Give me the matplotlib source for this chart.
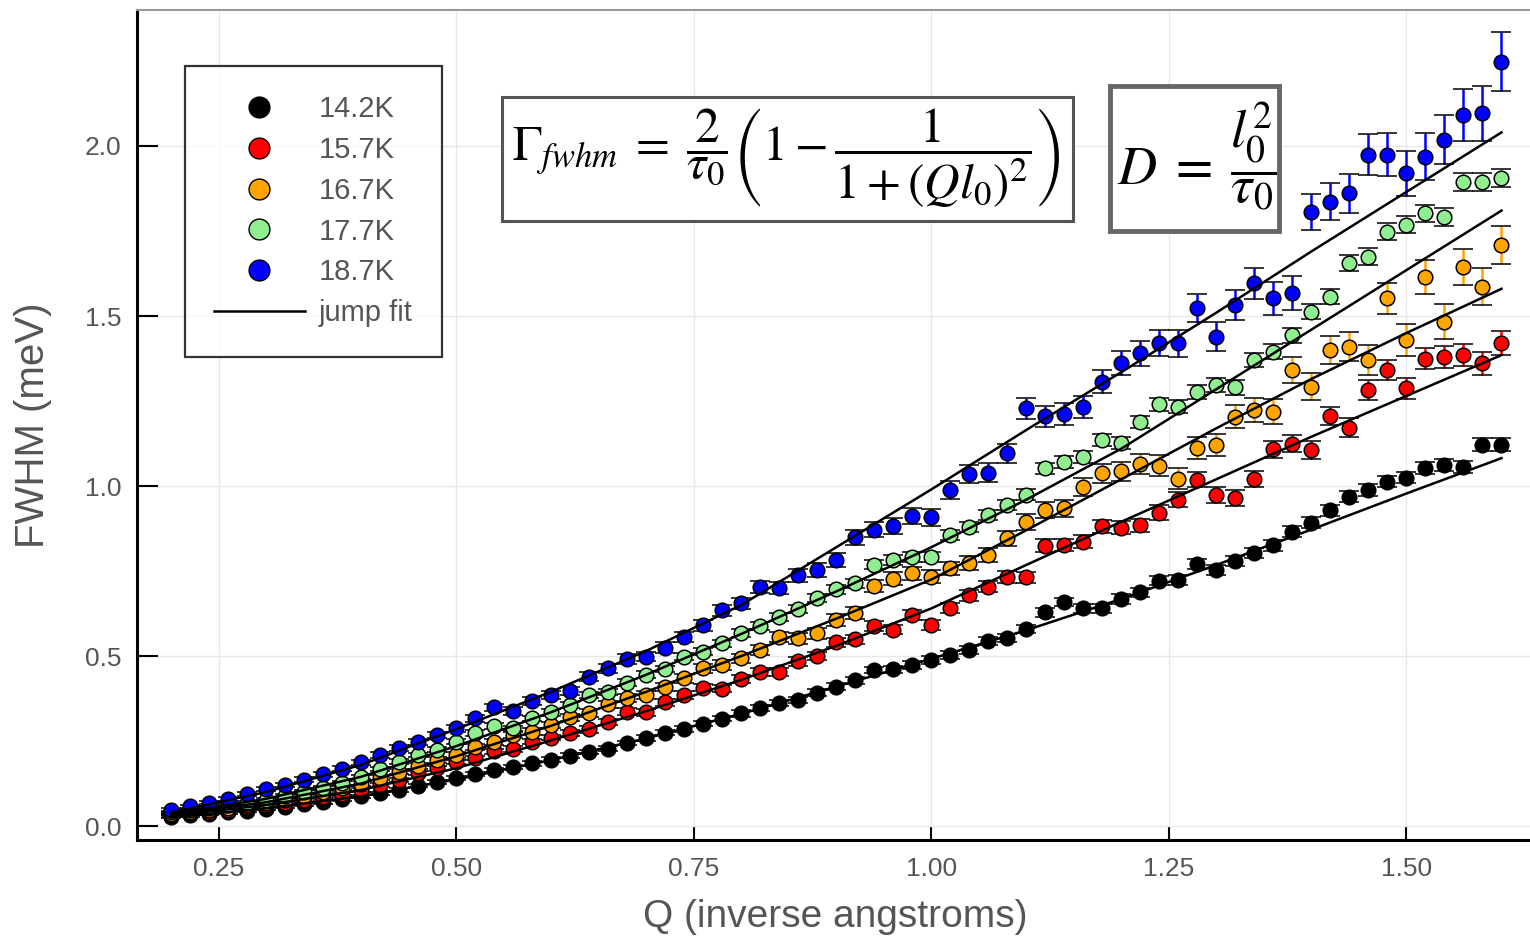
import matplotlib
matplotlib.use('Agg')
import matplotlib.pyplot as plt
from matplotlib.lines import Line2D
from matplotlib.patches import Rectangle

plt.rcParams['font.family'] = ['Liberation Sans', 'DejaVu Sans']
plt.rcParams['mathtext.fontset'] = 'stix'

# Q grid (inverse angstroms)
q = [0.20, 0.22, 0.24, 0.26, 0.28, 0.30, 0.32, 0.34, 0.36, 0.38,
     0.40, 0.42, 0.44, 0.46, 0.48, 0.50, 0.52, 0.54, 0.56, 0.58,
     0.60, 0.62, 0.64, 0.66, 0.68, 0.70, 0.72, 0.74, 0.76, 0.78,
     0.80, 0.82, 0.84, 0.86, 0.88, 0.90, 0.92, 0.94, 0.96, 0.98,
     1.00, 1.02, 1.04, 1.06, 1.08, 1.10, 1.12, 1.14, 1.16, 1.18,
     1.20, 1.22, 1.24, 1.26, 1.28, 1.30, 1.32, 1.34, 1.36, 1.38,
     1.40, 1.42, 1.44, 1.46, 1.48, 1.50, 1.52, 1.54, 1.56, 1.58,
     1.60]

# FWHM (meV) for each temperature
fwhm_142 = [0.027, 0.031, 0.035, 0.040, 0.045, 0.051, 0.057, 0.064, 0.071, 0.079,
            0.087, 0.096, 0.106, 0.119, 0.129, 0.142, 0.153, 0.164, 0.173, 0.184,
            0.195, 0.207, 0.218, 0.228, 0.244, 0.259, 0.275, 0.286, 0.301, 0.316,
            0.331, 0.346, 0.361, 0.371, 0.392, 0.410, 0.429, 0.459, 0.461, 0.474,
            0.488, 0.503, 0.517, 0.545, 0.553, 0.580, 0.629, 0.659, 0.641, 0.640,
            0.667, 0.687, 0.722, 0.724, 0.771, 0.753, 0.780, 0.802, 0.826, 0.866,
            0.892, 0.929, 0.969, 0.988, 1.013, 1.025, 1.052, 1.062, 1.057, 1.121,
            1.121]
fwhm_157 = [0.032, 0.037, 0.042, 0.048, 0.055, 0.062, 0.069, 0.077, 0.086, 0.095,
            0.105, 0.120, 0.136, 0.155, 0.170, 0.188, 0.200, 0.220, 0.226, 0.248,
            0.260, 0.273, 0.284, 0.307, 0.336, 0.334, 0.364, 0.385, 0.407, 0.404,
            0.432, 0.454, 0.454, 0.485, 0.500, 0.540, 0.549, 0.588, 0.578, 0.621,
            0.591, 0.642, 0.679, 0.704, 0.732, 0.731, 0.825, 0.826, 0.836, 0.882,
            0.878, 0.884, 0.922, 0.959, 1.018, 0.974, 0.964, 1.020, 1.108, 1.125,
            1.106, 1.206, 1.172, 1.282, 1.341, 1.287, 1.375, 1.380, 1.385, 1.361,
            1.420]
fwhm_167 = [0.035, 0.040, 0.046, 0.053, 0.061, 0.069, 0.078, 0.088, 0.099, 0.111,
            0.124, 0.142, 0.160, 0.177, 0.194, 0.209, 0.233, 0.248, 0.268, 0.277,
            0.297, 0.320, 0.333, 0.358, 0.376, 0.385, 0.410, 0.434, 0.464, 0.474,
            0.493, 0.518, 0.557, 0.552, 0.567, 0.606, 0.626, 0.705, 0.728, 0.743,
            0.733, 0.758, 0.773, 0.797, 0.846, 0.895, 0.929, 0.934, 0.998, 1.037,
            1.043, 1.064, 1.060, 1.022, 1.111, 1.121, 1.204, 1.224, 1.219, 1.341,
            1.292, 1.400, 1.410, 1.371, 1.552, 1.429, 1.616, 1.483, 1.645, 1.586,
            1.709]
fwhm_177 = [0.040, 0.046, 0.053, 0.061, 0.069, 0.078, 0.089, 0.100, 0.113, 0.127,
            0.145, 0.168, 0.189, 0.209, 0.224, 0.248, 0.273, 0.294, 0.287, 0.317,
            0.334, 0.356, 0.385, 0.395, 0.422, 0.445, 0.462, 0.498, 0.513, 0.537,
            0.568, 0.589, 0.616, 0.638, 0.670, 0.696, 0.714, 0.768, 0.782, 0.792,
            0.792, 0.856, 0.880, 0.915, 0.944, 0.974, 1.052, 1.071, 1.086, 1.135,
            1.126, 1.189, 1.240, 1.233, 1.277, 1.297, 1.290, 1.371, 1.395, 1.444,
            1.513, 1.557, 1.655, 1.675, 1.748, 1.768, 1.802, 1.792, 1.895, 1.895,
            1.905]
fwhm_187 = [0.047, 0.058, 0.069, 0.080, 0.094, 0.108, 0.122, 0.136, 0.152, 0.169,
            0.187, 0.209, 0.230, 0.246, 0.267, 0.287, 0.317, 0.349, 0.339, 0.368,
            0.385, 0.398, 0.439, 0.464, 0.492, 0.498, 0.525, 0.557, 0.591, 0.635,
            0.655, 0.704, 0.699, 0.738, 0.753, 0.782, 0.849, 0.871, 0.882, 0.912,
            0.908, 0.988, 1.035, 1.039, 1.096, 1.228, 1.205, 1.211, 1.233, 1.307,
            1.361, 1.390, 1.420, 1.420, 1.523, 1.439, 1.532, 1.596, 1.552, 1.567,
            1.807, 1.836, 1.861, 1.974, 1.974, 1.920, 1.969, 2.018, 2.091, 2.096,
            2.248]

# error bars (half widths, meV)
err_142 = [0.004, 0.004, 0.004, 0.004, 0.004, 0.004, 0.004, 0.005, 0.005, 0.005,
           0.005, 0.005, 0.005, 0.005, 0.006, 0.006, 0.006, 0.006, 0.006, 0.006,
           0.007, 0.007, 0.007, 0.007, 0.007, 0.008, 0.008, 0.008, 0.008, 0.008,
           0.009, 0.009, 0.009, 0.009, 0.010, 0.010, 0.010, 0.010, 0.011, 0.011,
           0.011, 0.011, 0.012, 0.012, 0.012, 0.012, 0.013, 0.013, 0.013, 0.013,
           0.014, 0.014, 0.014, 0.014, 0.015, 0.015, 0.015, 0.015, 0.016, 0.016,
           0.016, 0.016, 0.017, 0.017, 0.017, 0.017, 0.018, 0.018, 0.018, 0.019,
           0.019]
err_157 = [0.004, 0.004, 0.004, 0.004, 0.004, 0.005, 0.005, 0.005, 0.005, 0.005,
           0.006, 0.006, 0.006, 0.006, 0.007, 0.007, 0.007, 0.007, 0.008, 0.008,
           0.008, 0.009, 0.009, 0.009, 0.010, 0.010, 0.010, 0.011, 0.011, 0.011,
           0.012, 0.012, 0.012, 0.013, 0.013, 0.013, 0.014, 0.014, 0.014, 0.015,
           0.015, 0.015, 0.016, 0.016, 0.017, 0.017, 0.018, 0.018, 0.019, 0.019,
           0.020, 0.020, 0.021, 0.022, 0.022, 0.023, 0.024, 0.024, 0.025, 0.026,
           0.027, 0.027, 0.028, 0.029, 0.030, 0.030, 0.031, 0.032, 0.033, 0.034,
           0.035]
err_167 = [0.004, 0.004, 0.004, 0.005, 0.005, 0.005, 0.005, 0.006, 0.006, 0.006,
           0.007, 0.007, 0.007, 0.008, 0.008, 0.008, 0.009, 0.009, 0.009, 0.010,
           0.010, 0.010, 0.011, 0.011, 0.012, 0.012, 0.012, 0.013, 0.013, 0.014,
           0.014, 0.015, 0.015, 0.016, 0.016, 0.017, 0.017, 0.018, 0.018, 0.019,
           0.019, 0.020, 0.021, 0.021, 0.022, 0.023, 0.024, 0.025, 0.026, 0.027,
           0.028, 0.029, 0.030, 0.031, 0.032, 0.033, 0.034, 0.035, 0.036, 0.038,
           0.040, 0.041, 0.043, 0.044, 0.046, 0.048, 0.050, 0.051, 0.053, 0.055,
           0.057]
err_177 = [0.004, 0.004, 0.004, 0.004, 0.005, 0.005, 0.005, 0.005, 0.006, 0.006,
           0.006, 0.006, 0.007, 0.007, 0.007, 0.007, 0.008, 0.008, 0.008, 0.008,
           0.009, 0.009, 0.009, 0.009, 0.010, 0.010, 0.010, 0.010, 0.011, 0.011,
           0.011, 0.012, 0.012, 0.012, 0.012, 0.013, 0.013, 0.013, 0.014, 0.014,
           0.014, 0.015, 0.015, 0.015, 0.016, 0.016, 0.016, 0.017, 0.017, 0.018,
           0.018, 0.018, 0.019, 0.019, 0.020, 0.020, 0.021, 0.021, 0.022, 0.022,
           0.023, 0.023, 0.024, 0.024, 0.025, 0.025, 0.025, 0.026, 0.026, 0.027,
           0.027]
err_187 = [0.005, 0.005, 0.005, 0.005, 0.006, 0.006, 0.006, 0.007, 0.007, 0.007,
           0.008, 0.008, 0.008, 0.009, 0.009, 0.010, 0.010, 0.010, 0.011, 0.011,
           0.012, 0.012, 0.013, 0.013, 0.014, 0.014, 0.015, 0.015, 0.016, 0.016,
           0.017, 0.018, 0.018, 0.019, 0.020, 0.020, 0.021, 0.022, 0.023, 0.024,
           0.025, 0.026, 0.027, 0.028, 0.029, 0.030, 0.031, 0.032, 0.033, 0.034,
           0.035, 0.037, 0.038, 0.040, 0.041, 0.043, 0.045, 0.046, 0.048, 0.050,
           0.053, 0.055, 0.058, 0.060, 0.063, 0.066, 0.069, 0.072, 0.076, 0.080,
           0.087]

q_fit = [0.2, 0.3, 0.4, 0.5, 0.6, 0.7, 0.8, 0.9, 1.0, 1.1, 1.2, 1.3, 1.4, 1.5, 1.6]
fit_142 = [0.025, 0.052, 0.088, 0.137, 0.194, 0.258, 0.330, 0.410, 0.492, 0.576,
           0.668, 0.768, 0.872, 0.978, 1.082]
fit_157 = [0.030, 0.062, 0.106, 0.170, 0.252, 0.338, 0.430, 0.530, 0.640, 0.768,
           0.895, 1.020, 1.145, 1.265, 1.385]
fit_167 = [0.034, 0.070, 0.125, 0.205, 0.295, 0.395, 0.500, 0.610, 0.725, 0.870,
           1.020, 1.170, 1.315, 1.450, 1.580]
fit_177 = [0.036, 0.080, 0.145, 0.235, 0.335, 0.445, 0.565, 0.690, 0.820, 0.960,
           1.110, 1.285, 1.460, 1.635, 1.810]
fit_187 = [0.040, 0.100, 0.180, 0.285, 0.395, 0.515, 0.650, 0.820, 0.990, 1.165,
           1.335, 1.510, 1.690, 1.865, 2.040]

labels = ['14.2K', '15.7K', '16.7K', '17.7K', '18.7K']
colors = ['#000000', '#ff0000', '#ffa500', '#90ee90', '#0000ff']
series = [fwhm_142, fwhm_157, fwhm_167, fwhm_177, fwhm_187]
errors = [err_142, err_157, err_167, err_177, err_187]
fits = [fit_142, fit_157, fit_167, fit_177, fit_187]

fig = plt.figure(figsize=(15.3, 9.42), dpi=100)
ax = fig.add_axes([0.0895, 0.1083, 0.9105, 0.8811])

# data points with error bars (caps in black)
for vals, err, col in zip(series, errors, colors):
    _, caps, _ = ax.errorbar(q, vals, yerr=err, fmt='o', ms=10.5, mfc=col, mec='black',
                             mew=1.1, ecolor=col, elinewidth=1.8, capsize=7,
                             capthick=2.2, zorder=3)
    for c in caps:
        c.set_markeredgecolor('black')

# fit lines on top
for fit in fits:
    ax.plot(q_fit, fit, color='black', lw=1.8, zorder=6)

ax.set_xlim(0.164, 1.630)
ax.set_ylim(-0.041, 2.40)
ax.set_xticks([0.25, 0.50, 0.75, 1.00, 1.25, 1.50])
ax.set_xticklabels(['0.25', '0.50', '0.75', '1.00', '1.25', '1.50'])
ax.set_yticks([0.0, 0.5, 1.0, 1.5, 2.0])
ax.set_yticklabels(['0.0', '0.5', '1.0', '1.5', '2.0'])
ax.grid(True, color='#e8e8e8', lw=1.0, zorder=0)
ax.set_axisbelow(True)

ax.tick_params(axis='x', direction='in', length=9.5, width=1.5, pad=12,
               labelsize=19, labelcolor='#555555', top=False)
ax.tick_params(axis='y', direction='in', length=15, width=1.5, pad=11,
               labelsize=19, labelcolor='#555555', right=False)

for side in ['left', 'bottom']:
    ax.spines[side].set_linewidth(2.2)
    ax.spines[side].set_color('black')
ax.spines['top'].set_color('#999999')
ax.spines['top'].set_linewidth(1.5)
ax.spines['right'].set_visible(False)

ax.set_xlabel('Q (inverse angstroms)', fontsize=28, color='#555555')
ax.set_ylabel('FWHM (meV)', fontsize=29, color='#555555')
ax.xaxis.set_label_coords(0.501, -0.071)
ax.yaxis.set_label_coords(-0.061, 0.5)

# legend
handles = [Line2D([], [], ls='none', marker='o', ms=15, mfc=c, mec='black', mew=1.0)
           for c in colors]
handles.append(Line2D([], [], color='black', lw=1.8))
leg = ax.legend(handles, labels + ['jump fit'], loc='upper left',
                bbox_to_anchor=(185 / 1530, 1 - 66 / 942), bbox_transform=fig.transFigure,
                fontsize=21, frameon=True, fancybox=False, borderpad=1.0,
                handlelength=3.1, handletextpad=0.5, labelspacing=0.44,
                borderaxespad=0)
leg.get_frame().set_edgecolor('black')
leg.get_frame().set_linewidth(1.6)
for t in leg.get_texts():
    t.set_color('#555555')

# formula boxes
box1 = Rectangle((502 / 1530, 1 - 221 / 942), 571 / 1530, 124 / 942,
                 transform=fig.transFigure, facecolor='white', edgecolor='#555555',
                 lw=2.2, zorder=10)
box2 = Rectangle((1110 / 1530, 1 - 231 / 942), 169 / 1530, 145 / 942,
                 transform=fig.transFigure, facecolor='white', edgecolor='#666666',
                 lw=3.5, zorder=10)
fig.add_artist(box1)
fig.add_artist(box2)
fig.text(786 / 1530, 1 - 158 / 942,
         r'$\Gamma_{fwhm} \;=\; \dfrac{2}{\tau_0}\left(1 - \dfrac{1}{1+(Ql_0)^2}\right)$',
         fontsize=35.5, ha='center', va='center', zorder=11)
fig.text(1197 / 1530, 1 - 157 / 942, r'$D \;=\; \dfrac{l_0^2}{\tau_0}$',
         fontsize=39, ha='center', va='center', zorder=11)

fig.savefig('out.png', dpi=100)
